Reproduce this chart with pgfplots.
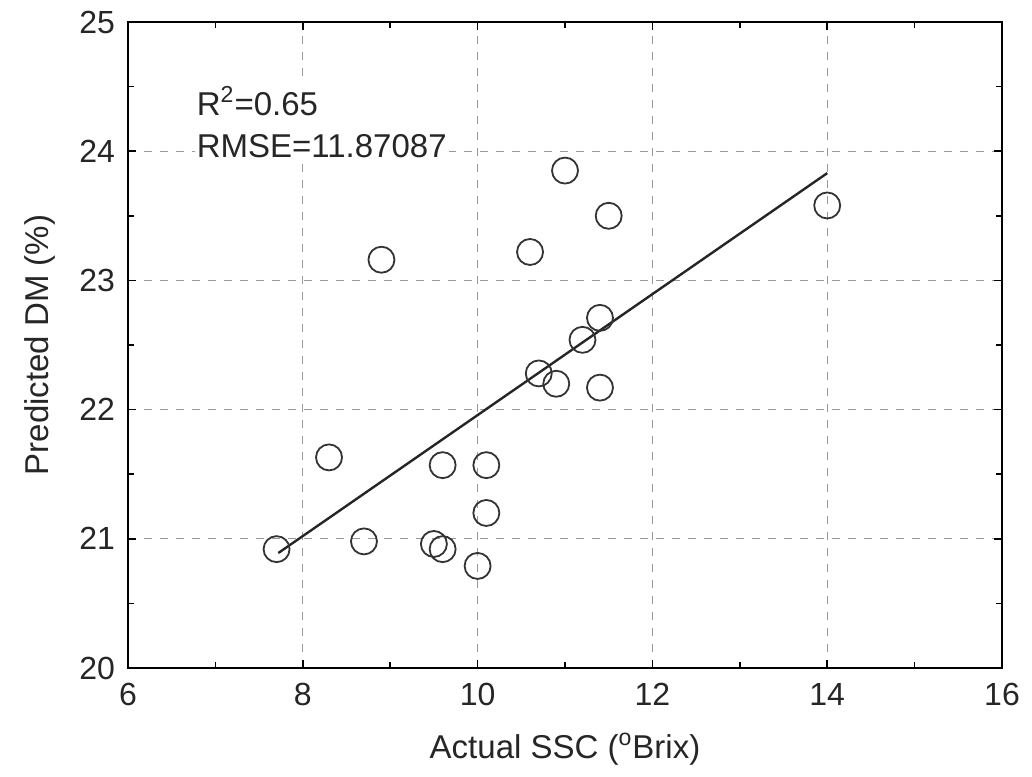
\documentclass[border=0pt]{standalone}
\usepackage{fontspec}
\setmainfont{Liberation Sans}
\usepackage{pgfplots}
\pgfplotsset{compat=1.18}
\begin{document}
\begin{tikzpicture}
\begin{axis}[
  at={(64pt,54pt)}, anchor=south west,
  scale only axis, width=437pt, height=323pt,
  xmin=6, xmax=16, ymin=20, ymax=25,
  xtick={6,8,...,16}, ytick={20,21,...,25},
  minor xtick={7,9,...,15}, minor ytick={20.5,21.5,...,24.5},
  tick align=inside, tick pos=both,
  major tick length=4pt, minor tick length=3pt,
  every tick/.style={black, line width=0.8pt},
  axis line style={black, line width=1.2pt},
  grid=major,
  major grid style={gray!80, dash pattern=on 4pt off 4pt, line width=0.6pt},
  /pgf/number format/assume math mode=true,
  ticklabel style={font=\fontsize{16}{18}\selectfont, text=black!85},
  label style={font=\fontsize{16.5}{20}\selectfont, text=black!85},
  xlabel={Actual SSC (\textsuperscript{o}Brix)},
  ylabel={Predicted DM (\%)},
  xlabel style={yshift=-7pt},
  ylabel style={yshift=5pt},
  xticklabel style={yshift=-4pt},
  yticklabel style={xshift=-3pt},
  clip=false,
]
\node[anchor=north west, fill=white, inner sep=1pt, align=left,
      font=\fontsize{16.5}{21}\selectfont, text=black!85]
  at (axis cs:6.76,24.52) {R\textsuperscript{2}=0.65\\RMSE=11.87087};
\addplot[only marks, mark=o, mark size=6.5pt, mark options={black!80, line width=0.9pt}]
coordinates {
(7.7,20.92) (8.3,21.63) (8.7,20.98) (8.9,23.16) (9.5,20.96) (9.6,20.92)
(9.6,21.57) (10.0,20.79) (10.1,21.2) (10.1,21.57) (10.6,23.22) (10.7,22.28)
(10.9,22.2) (11.0,23.85) (11.2,22.54) (11.4,22.71) (11.4,22.17) (11.5,23.5)
(14.0,23.58)
};
\addplot[black!85, line width=1.2pt] coordinates {(7.72,20.89) (14.0,23.83)};
\end{axis}
\pgfresetboundingbox
\path[use as bounding box] (0,0) rectangle (516pt,388pt);
\end{tikzpicture}
\end{document}
